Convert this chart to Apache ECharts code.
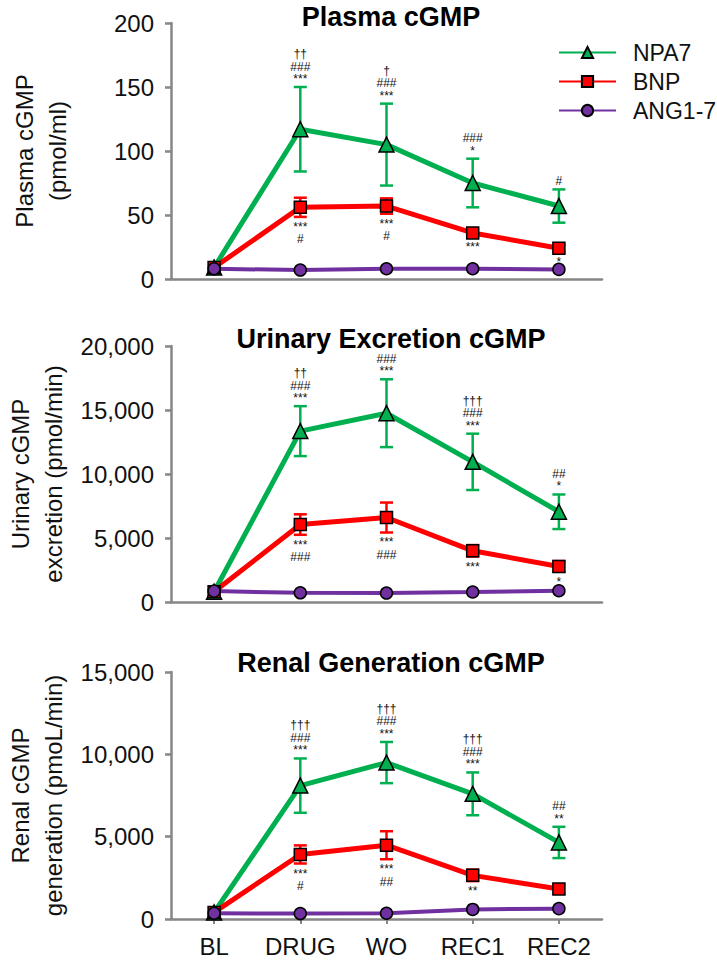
<!DOCTYPE html>
<html>
<head>
<meta charset="utf-8">
<style>
  html, body { margin: 0; padding: 0; background: #fff; }
  #chart { width: 717px; height: 963px; }
</style>
<script src="https://cdn.jsdelivr.net/npm/echarts@6.0.0/dist/echarts.min.js"></script>
</head>
<body>
<div id="chart"></div>
<script>
"use strict";

const categories = ["BL", "DRUG", "WO", "REC1", "REC2"];

// Plasma cGMP (pmol/ml)
const plasmaNPA7 = [9, 117, 105, 75, 57];
const plasmaNPA7Err = [0, 33, 32, 19, 13];
const plasmaBNP = [9, 56, 57, 36, 24];
const plasmaBNPErr = [0, 7.5, 6, 3, 3];
const plasmaANG = [8, 7, 8, 8, 7.5];
const plasmaNPA7Marks = ["", "††\n###\n***", "†\n###\n***", "###\n*", "#"];
const plasmaBNPMarks = ["", "***\n#", "***\n#", "***", "*"];

// Urinary excretion cGMP (pmol/min)
const urineNPA7 = [800, 13350, 14750, 10950, 7050];
const urineNPA7Err = [0, 1950, 2650, 2200, 1350];
const urineBNP = [800, 6050, 6600, 4000, 2780];
const urineBNPErr = [0, 800, 1170, 450, 420];
const urineANG = [850, 720, 700, 780, 880];
const urineNPA7Marks = ["", "††\n###\n***", "###\n***", "†††\n###\n***", "##\n*"];
const urineBNPMarks = ["", "***\n###", "***\n###", "***", "*"];

// Renal generation cGMP (pmoL/min)
const renalNPA7 = [400, 8100, 9500, 7600, 4650];
const renalNPA7Err = [0, 1650, 1250, 1300, 950];
const renalBNP = [400, 3920, 4480, 2650, 1820];
const renalBNPErr = [0, 550, 850, 350, 280];
const renalANG = [350, 330, 350, 580, 630];
const renalNPA7Marks = ["", "†††\n###\n***", "†††\n###\n***", "†††\n###\n***", "##\n**"];
const renalBNPMarks = ["", "***\n#", "***\n##", "**", ""];

const FONT = "'Liberation Sans', Arial, Helvetica, sans-serif";
const GREEN = "#00B050", RED = "#FF0000", PURPLE = "#7030A0";
const AXIS = "#868686";

const panels = [
  { title: "Plasma cGMP", yName: "Plasma cGMP\n(pmol/ml)", max: 200, interval: 50,
    top: 23, height: 256, titleTop: 3,
    npa: plasmaNPA7, npaErr: plasmaNPA7Err, bnp: plasmaBNP, bnpErr: plasmaBNPErr, ang: plasmaANG,
    npaMarks: plasmaNPA7Marks, bnpMarks: plasmaBNPMarks },
  { title: "Urinary Excretion cGMP", yName: "Urinary cGMP\nexcretion (pmol/min)", max: 20000, interval: 5000,
    top: 346, height: 256, titleTop: 325,
    npa: urineNPA7, npaErr: urineNPA7Err, bnp: urineBNP, bnpErr: urineBNPErr, ang: urineANG,
    npaMarks: urineNPA7Marks, bnpMarks: urineBNPMarks },
  { title: "Renal Generation cGMP", yName: "Renal cGMP\ngeneration (pmoL/min)", max: 15000, interval: 5000,
    top: 672, height: 247, titleTop: 649,
    npa: renalNPA7, npaErr: renalNPA7Err, bnp: renalBNP, bnpErr: renalBNPErr, ang: renalANG,
    npaMarks: renalNPA7Marks, bnpMarks: renalBNPMarks, showX: true },
];

const errorBars = (color) => (params, api) => {
  const x = api.value(0), v = api.value(1), e = api.value(2);
  if (!e) return null;
  const hi = api.coord([x, v + e]), lo = api.coord([x, v - e]);
  const half = 6.5;
  const style = { stroke: color, lineWidth: 2.5 };
  return {
    type: "group",
    children: [
      { type: "line", shape: { x1: hi[0], y1: hi[1], x2: lo[0], y2: lo[1] }, style },
      { type: "line", shape: { x1: hi[0] - half, y1: hi[1], x2: hi[0] + half, y2: hi[1] }, style },
      { type: "line", shape: { x1: lo[0] - half, y1: lo[1], x2: lo[0] + half, y2: lo[1] }, style },
    ],
  };
};

// significance marks, one text per line, stacked away from the error bar end
const LINE = 12.5;
const marks = (texts, above) => (params, api) => {
  const t = texts[params.dataIndex];
  if (!t) return null;
  const p = api.coord([api.value(0), api.value(1)]);
  const lines = t.split("\n");
  const n = lines.length;
  return {
    type: "group",
    children: lines.map((s, k) => ({
      type: "text",
      x: p[0],
      y: above ? p[1] - 2 - (n - 1 - k) * LINE : p[1] + 4 + k * LINE,
      style: {
        text: s, fontSize: 12, fontFamily: FONT, fill: "#111",
        align: "center", verticalAlign: above ? "bottom" : "top",
      },
    })),
  };
};

const option = {
  animation: false,
  backgroundColor: "#fff",
  textStyle: { fontFamily: FONT },
  title: panels.map((p) => ({
    text: p.title, left: 391, top: p.titleTop, textAlign: "center", padding: 0,
    textStyle: { fontFamily: FONT, fontSize: 27, fontWeight: "bold", color: "#000" },
  })),
  legend: {
    data: ["NPA7", "BNP", "ANG1-7"],
    orient: "vertical", left: 553, top: 34,
    itemWidth: 57, itemHeight: 14, itemGap: 2,
    textStyle: { fontFamily: FONT, fontSize: 23, color: "#111", lineHeight: 27, padding: [0, 0, 0, 12] },
  },
  grid: panels.map((p) => ({
    left: 171, right: 115, top: p.top, height: p.height, outerBoundsMode: "none",
  })),
  xAxis: panels.map((p, i) => ({
    type: "category", gridIndex: i, data: categories, boundaryGap: true,
    axisLine: { lineStyle: { color: AXIS, width: 2.5 } },
    axisTick: { show: !!p.showX, alignWithLabel: true, length: 5, lineStyle: { color: AXIS, width: 2 } },
    axisLabel: { show: !!p.showX, interval: 0, fontFamily: FONT, fontSize: 24, color: "#111", margin: 15 },
    splitLine: { show: false },
  })),
  yAxis: panels.map((p, i) => ({
    type: "value", gridIndex: i, min: 0, max: p.max, interval: p.interval,
    name: p.yName, nameLocation: "middle", nameRotate: 90, nameGap: 97,
    nameTextStyle: { fontFamily: FONT, fontSize: 24, color: "#111", lineHeight: 33 },
    axisLine: { show: true, lineStyle: { color: AXIS, width: 2.5 } },
    axisTick: { show: true, length: 6, lineStyle: { color: AXIS, width: 2.5 } },
    axisLabel: {
      fontFamily: FONT, fontSize: 24, color: "#111", margin: 17,
      formatter: (v) => v.toLocaleString("en-US"),
    },
    splitLine: { show: false },
  })),
  series: [],
};

panels.forEach((p, i) => {
  const axes = { xAxisIndex: i, yAxisIndex: i };
  const lineSeries = (name, values, color, symbol, size, width) => ({
    name, type: "line", ...axes, data: values, z: 3,
    symbol, symbolSize: size,
    lineStyle: { color, width },
    itemStyle: { color, borderColor: "#000", borderWidth: 1.5 },
  });
  option.series.push(
    { type: "custom", ...axes, z: 1, renderItem: errorBars(GREEN),
      data: p.npa.map((v, k) => [k, v, p.npaErr[k]]) },
    { type: "custom", ...axes, z: 1, renderItem: errorBars(RED),
      data: p.bnp.map((v, k) => [k, v, p.bnpErr[k]]) },
    lineSeries("NPA7", p.npa, GREEN, "triangle", 15, 5),
    lineSeries("BNP", p.bnp, RED, "rect", 12, 5),
    lineSeries("ANG1-7", p.ang, PURPLE, "circle", 12, 4),
    { type: "custom", ...axes, z: 4, clip: false, renderItem: marks(p.npaMarks, true),
      data: p.npa.map((v, k) => [k, v + p.npaErr[k]]) },
    { type: "custom", ...axes, z: 4, clip: false, renderItem: marks(p.bnpMarks, false),
      data: p.bnp.map((v, k) => [k, v - p.bnpErr[k]]) },
  );
});

const chart = echarts.init(document.getElementById("chart"), null, { renderer: "svg" });
chart.setOption(option);
</script>
</body>
</html>
